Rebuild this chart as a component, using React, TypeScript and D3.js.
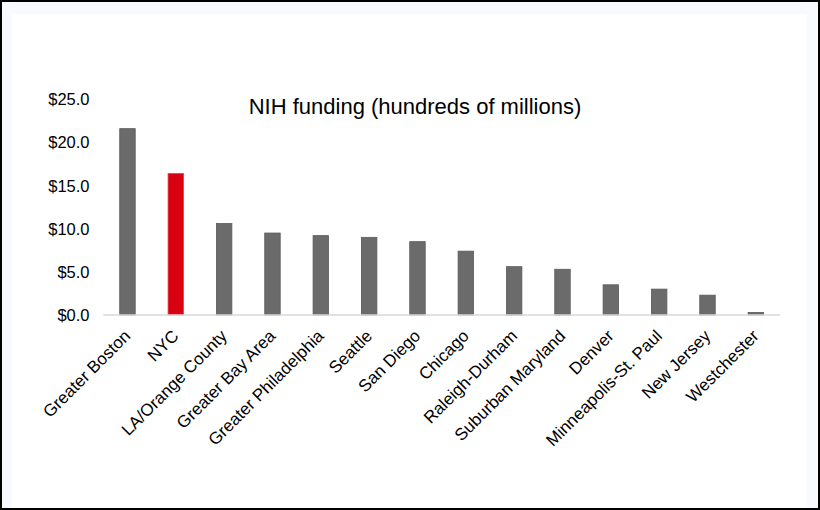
import React from "react";
import * as d3 from "d3";

const regions = [
  "Greater Boston",
  "NYC",
  "LA/Orange County",
  "Greater Bay Area",
  "Greater Philadelphia",
  "Seattle",
  "San Diego",
  "Chicago",
  "Raleigh-Durham",
  "Suburban Maryland",
  "Denver",
  "Minneapolis-St. Paul",
  "New Jersey",
  "Westchester",
];

const funding = [21.6, 16.4, 10.6, 9.5, 9.2, 9.0, 8.5, 7.4, 5.6, 5.3, 3.5, 3.0, 2.3, 0.3];

const yTicks = [0, 5, 10, 15, 20, 25];

const highlight = "NYC";

const width = 820;
const height = 510;
const margin = { top: 99.3, right: 40, bottom: 195, left: 103.3 };

const App = () => {
  const innerWidth = 780 - margin.left;
  const innerHeight = 315 - margin.top;

  const xScale = d3
    .scaleBand()
    .domain(regions)
    .range([0, innerWidth])
    .paddingInner(0.68)
    .paddingOuter(0.34);

  const yScale = d3.scaleLinear().domain([0, 25]).range([innerHeight, 0]);

  const font = "'Liberation Sans', Arial, sans-serif";

  return (
    <svg
      width={width}
      height={height}
      style={{ position: "absolute", left: 0, top: 0, display: "block" }}
    >
      {/* frame */}
      <rect x={0} y={0} width={width} height={height} fill="#000" />
      <rect x={2} y={2} width={816} height={506} fill="#f9fafd" />
      <rect x={12} y={14} width={795} height={494} fill="#fff" />

      <text
        x={415}
        y={114}
        textAnchor="middle"
        fontFamily={font}
        fontSize={22}
        fill="#000"
      >
        NIH funding (hundreds of millions)
      </text>

      <g transform={`translate(${margin.left},${margin.top})`}>
        {
          // Y ticks labels
          yTicks.map((t) => (
            <text
              key={t}
              x={89.5 - margin.left}
              y={yScale(t)}
              dy=".36em"
              textAnchor="end"
              fontFamily={font}
              fontSize={16.5}
              fill="#000"
            >
              {"$" + t.toFixed(1)}
            </text>
          ))
        }
        {
          // Bars
          regions.map((r, i) => (
            <rect
              key={r}
              x={xScale(r)}
              y={yScale(funding[i])}
              width={xScale.bandwidth()}
              height={innerHeight - yScale(funding[i])}
              fill={r === highlight ? "#d9000f" : "#6b6b6b"}
              stroke={r === highlight ? "#e8404a" : "#5a5a5a"}
              strokeWidth={0.8}
            />
          ))
        }
        <line
          x1={0}
          x2={innerWidth}
          y1={innerHeight}
          y2={innerHeight}
          stroke="#d9d9d9"
          strokeWidth={1.5}
        />
        {
          // X labels
          regions.map((r) => (
            <text
              key={r}
              transform={`translate(${xScale(r) + xScale.bandwidth() / 2 + 4},${
                innerHeight + 22
              }) rotate(-45)`}
              textAnchor="end"
              fontFamily={font}
              fontSize={17}
              fill="#000"
            >
              {r}
            </text>
          ))
        }
      </g>
    </svg>
  );
};

export default App;
